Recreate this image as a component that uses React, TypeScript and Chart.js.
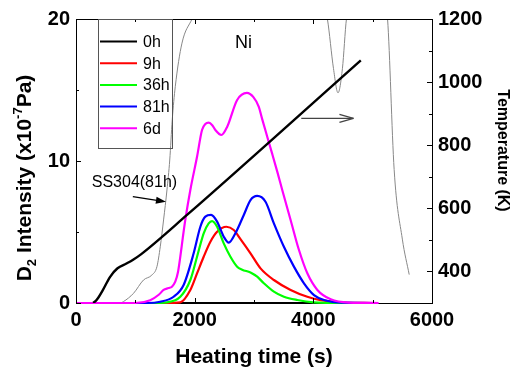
import React, { useEffect, useRef } from 'react';
import { Chart, registerables } from 'chart.js';

Chart.register(...registerables);

const FONT = "'Liberation Sans', Arial, Helvetica, sans-serif";

// ---- Series (heating time in s, D2 intensity in 1e-7 Pa) ----
const seriesLabels = ['0h', '9h', '36h', '81h', '6d'];
const seriesColors = ['#000000', '#ff0000', '#00ff00', '#0000ff', '#ff00ff'];

const time0h = [0, 5080];
const d2_0h = [0, 0];

const time9h = [0, 1500, 1758, 1927, 2040, 2152, 2265, 2378, 2535, 2659, 2772, 2941, 3110, 3335, 3617, 3899, 4124, 4500, 5000];
const d2_9h = [0, 0, 0.05, 0.92, 2.09, 3.26, 4.32, 5.02, 5.37, 5.14, 4.5, 3.5, 2.44, 1.62, 0.92, 0.44, 0.2, 0.03, 0];

const time36h = [0, 1300, 1533, 1758, 1927, 2040, 2152, 2236, 2293, 2378, 2490, 2603, 2716, 2800, 2941, 3054, 3166, 3335, 3504, 3730, 4000, 4500, 5000];
const d2_36h = [0, 0, 0.05, 0.44, 1.62, 3.26, 4.91, 5.61, 5.77, 5.37, 4.2, 3.26, 2.56, 2.35, 2.15, 1.85, 1.39, 0.8, 0.44, 0.21, 0.05, 0, 0];

const time81h = [0, 1200, 1420, 1645, 1814, 1983, 2096, 2180, 2277, 2378, 2490, 2575, 2687, 2828, 2941, 3054, 3194, 3335, 3504, 3673, 3842, 4011, 4180, 4500, 5080];
const d2_81h = [0, 0, 0.09, 0.44, 1.27, 3.5, 5.37, 6.08, 6.2, 5.73, 4.67, 4.25, 4.91, 6.2, 7.25, 7.54, 7.13, 5.61, 3.96, 2.56, 1.39, 0.56, 0.21, 0.02, 0];

const time6d = [0, 1000, 1251, 1400, 1476, 1560, 1617, 1673, 1720, 1758, 1800, 1842, 1927, 2040, 2124, 2180, 2236, 2300, 2349, 2450, 2547, 2716, 2880, 2990, 3081, 3138, 3223, 3307, 3392, 3476, 3617, 3758, 3899, 4068, 4293, 4600, 5100];
const d2_6d = [0, 0, 0.2, 0.6, 0.92, 1.05, 1.15, 1.5, 2.2, 3.26, 4.6, 5.85, 7.96, 10.3, 12.18, 12.6, 12.7, 12.5, 12.18, 11.83, 12.4, 14.3, 14.8, 14.5, 13.82, 12.95, 11.71, 10.5, 9.25, 7.96, 5.85, 3.73, 2.09, 0.92, 0.26, 0.03, 0];

// SS304 (81h) reference curve (goes off scale)
const timeSS304 = [0, 744, 800, 969, 1138, 1279, 1364, 1420, 1476, 1533, 1580, 1622, 1673, 1786, 1955, 2400, 3200, 4000, 4237, 4340, 4416, 4490, 4558, 4800, 5050, 5251, 5362, 5500, 5616];
const d2SS304 = [0, 0, 0.1, 0.68, 1.62, 1.97, 2.56, 3.96, 5.85, 7.96, 10.07, 12.9, 15.23, 18.3, 20, 24, 26, 24, 20, 16.5, 14.8, 16.5, 20, 24, 24, 20, 9.4, 4.5, 2.0];

// Temperature (K) vs heating time
const timeTemp = [290, 350, 450, 575, 700, 850, 969, 1100, 1871, 4800];
const temperature = [300, 310, 340, 383, 410, 425, 438, 455, 579, 1069];

// ---- Ticks ----
const xMajorTicks = [0, 2000, 4000, 6000];
const xMinorTicks = [1000, 3000, 5000];
const yMajorTicks = [0, 10, 20];
const yMinorTicks = [5, 15];
const tMajorTicks = [400, 600, 800, 1000, 1200];
const tMinorTicks = [500, 700, 900, 1100];

// ---- Annotations (data units: time s, D2 intensity) ----
const niLabel = { text: 'Ni', x: 2822, y: 18.3 };
const ssLabel = { text: 'SS304(81h)', x: 985, y: 8.45 };
const ssArrow = { x1: 958, y1: 7.49, x2: 1516, y2: 7.13 };
const tempArrow = { x1: 3797, y1: 13.0, x2: 4676, y2: 13.0 };

const toXY = (xs: number[], ys: number[]) => xs.map((x, i) => ({ x, y: ys[i] }));

const decorPlugin = {
  id: 'decor',
  afterDraw(chart: any) {
    const { ctx, chartArea: a, scales } = chart;
    const xs = scales.x, ys = scales.y, ts = scales.y2;
    ctx.save();
    ctx.strokeStyle = '#000';
    ctx.lineWidth = 1;
    const line = (x1: number, y1: number, x2: number, y2: number) => {
      ctx.beginPath(); ctx.moveTo(x1, y1); ctx.lineTo(x2, y2); ctx.stroke();
    };
    // top border
    line(a.left, a.top + 0.5, a.right, a.top + 0.5);
    // x ticks (bottom + top), inward
    const xt = (v: number, len: number) => {
      const px = Math.round(xs.getPixelForValue(v)) + 0.5;
      line(px, a.bottom, px, a.bottom - len);
      line(px, a.top, px, a.top + len);
    };
    xMajorTicks.forEach(v => xt(v, 5));
    xMinorTicks.forEach(v => xt(v, 3));
    const yt = (v: number, len: number) => {
      const py = Math.round(ys.getPixelForValue(v)) + 0.5;
      line(a.left, py, a.left + len, py);
    };
    yMajorTicks.forEach(v => yt(v, 5));
    yMinorTicks.forEach(v => yt(v, 3));
    const tt = (v: number, len: number) => {
      const py = Math.round(ts.getPixelForValue(v)) + 0.5;
      line(a.right, py, a.right - len, py);
    };
    tMajorTicks.forEach(v => tt(v, 5));
    tMinorTicks.forEach(v => tt(v, 3));

    // legend
    const lx = a.left + 22, ly = a.top, lw = 74, lh = 129;
    ctx.strokeStyle = '#555';
    ctx.strokeRect(lx + 0.5, ly + 0.5, lw, lh);
    ctx.font = `16px ${FONT}`;
    ctx.textBaseline = 'middle';
    ctx.textAlign = 'left';
    seriesLabels.forEach((lab, i) => {
      const yy = ly + 22.5 + i * 21.7;
      ctx.strokeStyle = seriesColors[i];
      ctx.lineWidth = 2;
      line(lx + 2, yy, lx + 39, yy);
      ctx.fillStyle = '#000';
      ctx.fillText(lab, lx + 45, yy + 1);
    });

    // text annotations
    ctx.fillStyle = '#000';
    ctx.textAlign = 'center';
    ctx.font = `18px ${FONT}`;
    ctx.fillText(niLabel.text, xs.getPixelForValue(niLabel.x), ys.getPixelForValue(niLabel.y));
    ctx.font = `16px ${FONT}`;
    ctx.fillText(ssLabel.text, xs.getPixelForValue(ssLabel.x), ys.getPixelForValue(ssLabel.y));

    // arrow 1 (filled head)
    {
      const x1 = xs.getPixelForValue(ssArrow.x1), y1 = ys.getPixelForValue(ssArrow.y1);
      const x2 = xs.getPixelForValue(ssArrow.x2), y2 = ys.getPixelForValue(ssArrow.y2);
      const ang = Math.atan2(y2 - y1, x2 - x1);
      ctx.strokeStyle = '#000'; ctx.fillStyle = '#000'; ctx.lineWidth = 1.2;
      line(x1, y1, x2 - 6 * Math.cos(ang), y2 - 6 * Math.sin(ang));
      ctx.beginPath();
      ctx.moveTo(x2, y2);
      ctx.lineTo(x2 - 10 * Math.cos(ang) + 3.5 * Math.sin(ang), y2 - 10 * Math.sin(ang) - 3.5 * Math.cos(ang));
      ctx.lineTo(x2 - 10 * Math.cos(ang) - 3.5 * Math.sin(ang), y2 - 10 * Math.sin(ang) + 3.5 * Math.cos(ang));
      ctx.closePath(); ctx.fill();
    }
    // arrow 2 (open head)
    {
      const x1 = xs.getPixelForValue(tempArrow.x1), y1 = ys.getPixelForValue(tempArrow.y1);
      const x2 = xs.getPixelForValue(tempArrow.x2), y2 = ys.getPixelForValue(tempArrow.y2);
      ctx.strokeStyle = '#444'; ctx.lineWidth = 1.2;
      line(x1, y1, x2, y2);
      line(x2, y2, x2 - 14, y2 - 4);
      line(x2, y2, x2 - 14, y2 + 4);
    }

    // axis titles
    ctx.fillStyle = '#000';
    // bottom
    ctx.textAlign = 'center';
    ctx.textBaseline = 'middle';
    ctx.font = `bold 21px ${FONT}`;
    ctx.fillText('Heating time (s)', (a.left + a.right) / 2, 357);
    // left (rich text, rotated -90)
    const parts = [
      { t: 'D', s: 21, dy: 0 },
      { t: '2', s: 13, dy: 5 },
      { t: ' Intensity (x10', s: 21, dy: 0 },
      { t: '-7', s: 13, dy: -9 },
      { t: 'Pa)', s: 21, dy: 0 },
    ];
    ctx.save();
    ctx.translate(31, (a.top + a.bottom) / 2 + 17);
    ctx.rotate(-Math.PI / 2);
    ctx.textAlign = 'left';
    ctx.textBaseline = 'alphabetic';
    let total = 0;
    const widths = parts.map(p => { ctx.font = `bold ${p.s}px ${FONT}`; const w = ctx.measureText(p.t).width; total += w; return w; });
    let cx = -total / 2;
    parts.forEach((p, i) => { ctx.font = `bold ${p.s}px ${FONT}`; ctx.fillText(p.t, cx, p.dy); cx += widths[i]; });
    ctx.restore();
    // right
    ctx.save();
    ctx.translate(502, 150.5);
    ctx.rotate(Math.PI / 2);
    ctx.textAlign = 'center';
    ctx.textBaseline = 'middle';
    ctx.font = `bold 16px ${FONT}`;
    ctx.fillText('Temperature (K)', 0, 0);
    ctx.restore();

    ctx.restore();
  },
};

export default function App() {
  const ref = useRef<HTMLCanvasElement | null>(null);
  useEffect(() => {
    if (!ref.current) return;
    const tickFont = { family: FONT, size: 20, weight: 'bold' as const };
    const fmt = (v: any) => String(v);
    const common = { pointRadius: 0, borderWidth: 2.2, cubicInterpolationMode: 'monotone' as const, fill: false };
    const noClip = { top: false, bottom: false, left: false, right: false };
    const chart = new Chart(ref.current, {
      type: 'line',
      data: {
        datasets: [
          { label: 'Temperature', data: toXY(timeTemp, temperature), yAxisID: 'y2', borderColor: '#000', ...common, borderWidth: 2.4, order: 0 },
          { label: seriesLabels[4], data: toXY(time6d, d2_6d), yAxisID: 'y', borderColor: seriesColors[4], ...common, order: 1, clip: noClip },
          { label: seriesLabels[3], data: toXY(time81h, d2_81h), yAxisID: 'y', borderColor: seriesColors[3], ...common, order: 2, clip: noClip },
          { label: seriesLabels[2], data: toXY(time36h, d2_36h), yAxisID: 'y', borderColor: seriesColors[2], ...common, order: 3, clip: noClip },
          { label: seriesLabels[1], data: toXY(time9h, d2_9h), yAxisID: 'y', borderColor: seriesColors[1], ...common, order: 4, clip: noClip },
          { label: seriesLabels[0], data: toXY(time0h, d2_0h), yAxisID: 'y', borderColor: seriesColors[0], ...common, order: 5, clip: noClip },
          { label: 'SS304(81h)', data: toXY(timeSS304, d2SS304), yAxisID: 'y', borderColor: '#888', ...common, borderWidth: 1, order: 6, clip: { top: 0, bottom: false, left: false, right: false } },
        ] as any,
      },
      options: {
        responsive: false,
        devicePixelRatio: 1,
        animation: false,
        events: [],
        layout: { padding: { top: 19, left: 0, right: 0, bottom: 0 } },
        plugins: { legend: { display: false }, tooltip: { enabled: false } },
        scales: {
          x: {
            type: 'linear', min: 0, max: 6000,
            afterBuildTicks: (s: any) => { s.ticks = xMajorTicks.map(v => ({ value: v })); },
            afterFit: (s: any) => { s.height = 68; },
            ticks: { font: tickFont, color: '#000', padding: 5, maxRotation: 0, autoSkip: false, callback: fmt },
            grid: { display: false, drawTicks: false },
            border: { display: true, color: '#000', width: 1 },
          },
          y: {
            type: 'linear', position: 'left', min: 0, max: 20,
            afterBuildTicks: (s: any) => { s.ticks = yMajorTicks.map(v => ({ value: v })); },
            afterFit: (s: any) => { s.width = 76; },
            ticks: { font: tickFont, color: '#000', padding: 6, autoSkip: false, callback: fmt },
            grid: { display: false, drawTicks: false },
            border: { display: true, color: '#000', width: 1 },
          },
          y2: {
            type: 'linear', position: 'right', min: 300, max: 1200,
            afterBuildTicks: (s: any) => { s.ticks = tMajorTicks.map(v => ({ value: v })); },
            afterFit: (s: any) => { s.width = 82; },
            ticks: { font: tickFont, color: '#000', padding: 6, autoSkip: false, callback: fmt },
            grid: { display: false, drawTicks: false },
            border: { display: true, color: '#000', width: 1 },
          },
        },
      } as any,
      plugins: [decorPlugin],
    });
    return () => chart.destroy();
  }, []);
  return (
    <div style={{ position: 'absolute', left: 0, top: 0, width: 514, height: 371, background: '#fff' }}>
      <canvas ref={ref} width={514} height={371} style={{ display: 'block' }} />
    </div>
  );
}
